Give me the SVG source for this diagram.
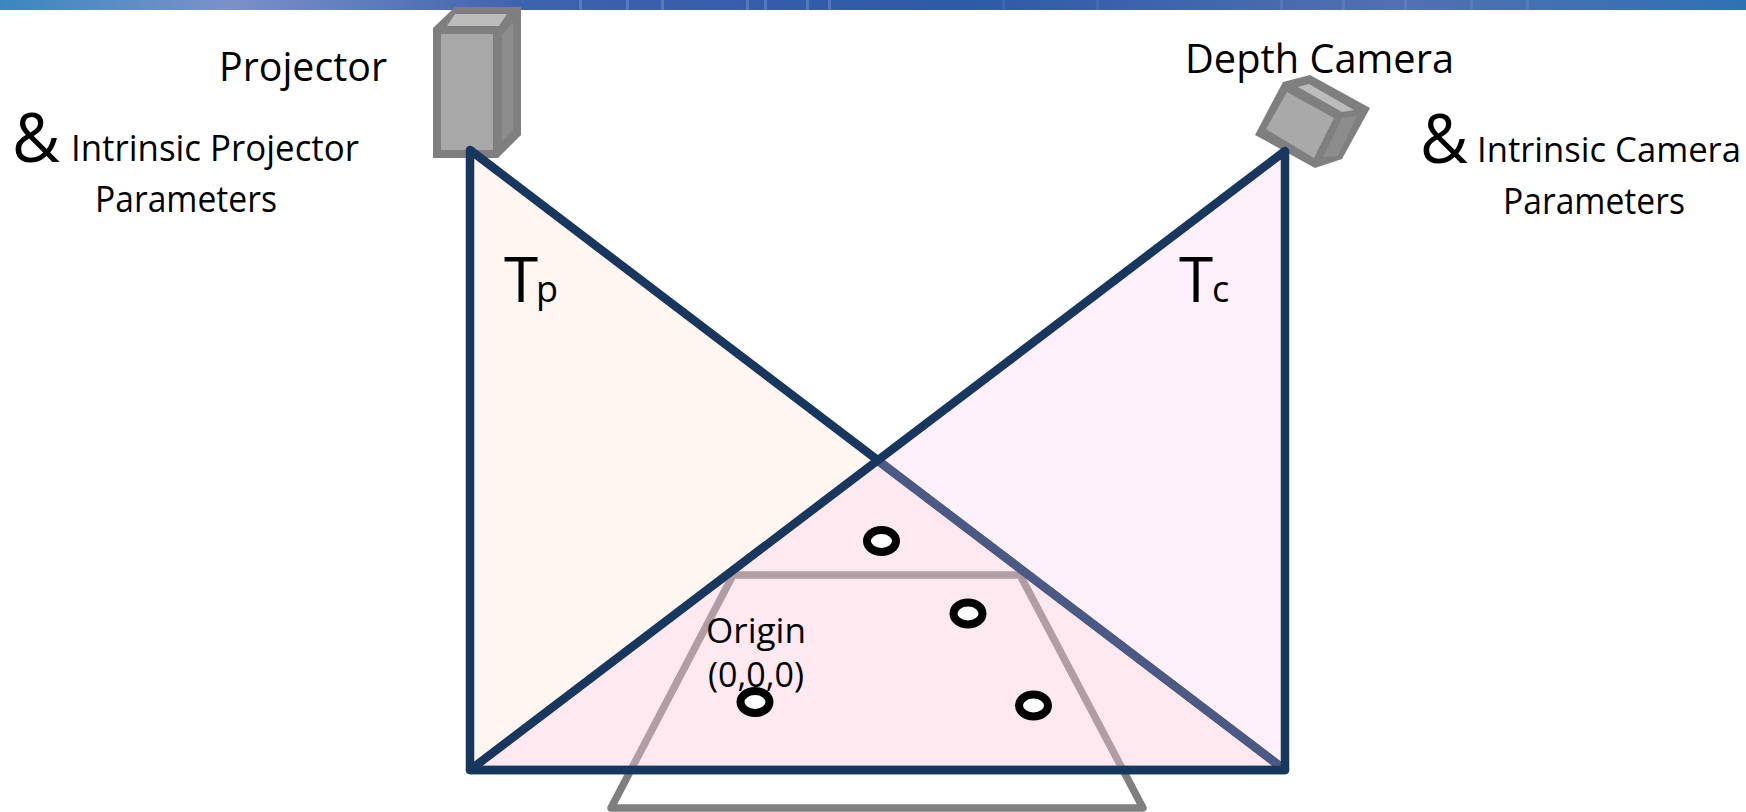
<svg xmlns="http://www.w3.org/2000/svg" width="1746" height="812" viewBox="0 0 1746 812">
<style>
text{font-family:"Open Sans","Noto Sans","Liberation Sans",sans-serif;fill:#000}
.m{font-size:36px}.n{font-size:34px}.l{font-size:41px}.s{font-size:34px}.amp{font-size:68px}.t{font-size:62px}.sub{font-size:36px}
.shell{fill:#7f7f7f}.front{fill:#a9a9a9}.top{fill:#bcbcbc}.side{fill:#8c8c8c}
.spot{fill:#fff;stroke:#000;stroke-width:8}
.tri{stroke:#17375e;stroke-width:8.500;stroke-linejoin:round}
.streak{fill:#8fb0dc}
</style>
<defs><linearGradient id="bar" x1="0" x2="1" y1="0" y2="0">
<stop offset="0" stop-color="#3a87c0"/><stop offset=".13" stop-color="#7b92c9"/><stop offset=".3" stop-color="#3f62ad"/><stop offset=".55" stop-color="#2d5aa6"/><stop offset=".8" stop-color="#5270b2"/><stop offset="1" stop-color="#2e72b3"/>
</linearGradient></defs>
<rect width="1746" height="10" fill="url(#bar)"/>
<g id="bar-streaks">
<rect class="streak" opacity=".35" x="579" width="3" height="10"/><rect class="streak" opacity=".35" x="626" width="3" height="10"/><rect class="streak" opacity=".35" x="661" width="3" height="10"/><rect class="streak" opacity=".35" x="746" width="3" height="10"/><rect class="streak" opacity=".35" x="764" width="3" height="10"/><rect class="streak" opacity=".35" x="806" width="3" height="10"/><rect class="streak" opacity=".35" x="828" width="3" height="10"/><rect class="streak" opacity=".15" x="1002" width="3" height="10"/><rect class="streak" opacity=".15" x="1096" width="3" height="10"/><rect class="streak" opacity=".2" x="1280" width="3" height="10"/><rect class="streak" opacity=".2" x="1342" width="3" height="10"/><rect class="streak" opacity=".2" x="1404" width="3" height="10"/><rect class="streak" opacity=".2" x="1470" width="3" height="10"/><rect class="streak" opacity=".2" x="1526" width="3" height="10"/>
</g>
<g id="table-plane"><path d="M733 575H1020L1143 808H611Z" fill="none" stroke="#7f7f7f" stroke-width="7.500" stroke-linejoin="round"/></g>
<g id="projector">
<path class="shell" d="M433 28L455 7H521V135L498 158H433Z"/>
<path class="front" d="M441 34H493V150H441Z"/><path class="top" d="M447 26L455 14H507L499 26Z"/><path class="side" d="M502 35L513 22V130L502 142Z"/>
<text class="l" x="219" y="81" textLength="168" lengthAdjust="spacingAndGlyphs">Projector</text>
</g>
<g id="camera">
<path class="shell" d="M1283 82L1310 75L1370 108L1342 159L1315 168L1255 135Z"/>
<path class="front" d="M1287 92L1334 118L1314 158L1266 129Z"/><path class="top" d="M1298 87L1309 84L1354 110L1342 112Z"/><path class="side" d="M1342 118L1357 116L1338 156L1323 157Z"/>
<text class="l" x="1185" y="73" textLength="269" lengthAdjust="spacingAndGlyphs">Depth Camera</text>
</g>
<g id="connectors">
<path class="tri" d="M470 150V770H1285Z" fill="#fdd9c4" fill-opacity=".24"/>
<path d="M1285 151V770H470Z" fill="#f8bfe8" fill-opacity=".23"/>
<path d="M877 460L1285 770" fill="none" stroke="#4a5a85" stroke-width="8.500"/>
<path d="M1285 151V770H470Z" fill="none" class="tri"/>
</g>
<g id="projector-params">
<text class="amp" x="12" y="162" textLength="48" lengthAdjust="spacingAndGlyphs">&amp;</text>
<text class="m" x="71" y="161" textLength="288" lengthAdjust="spacingAndGlyphs">Intrinsic Projector</text>
<text class="m" x="95" y="212" textLength="182" lengthAdjust="spacingAndGlyphs">Parameters</text>
</g>
<g id="camera-params">
<text class="amp" x="1420" y="163" textLength="48" lengthAdjust="spacingAndGlyphs">&amp;</text>
<text class="n" x="1477" y="162" textLength="264" lengthAdjust="spacingAndGlyphs">Intrinsic Camera</text>
<text class="m" x="1503" y="214" textLength="182" lengthAdjust="spacingAndGlyphs">Parameters</text>
</g>
<g id="tp"><text class="t" x="504" y="302">T</text><text class="sub" x="536" y="302">p</text></g>
<g id="tc"><text class="t" x="1179" y="302">T</text><text class="sub" x="1212" y="302">c</text></g>
<g id="origin">
<text class="s" x="706" y="643" textLength="100" lengthAdjust="spacingAndGlyphs">Origin</text>
<text class="s" x="708" y="687" textLength="96" lengthAdjust="spacingAndGlyphs">(0,0,0)</text>
</g>
<g id="point-1"><ellipse class="spot" cx="881.500" cy="541" rx="14.500" ry="11"/></g>
<g id="point-2"><ellipse class="spot" cx="968" cy="613.500" rx="14.500" ry="11"/></g>
<g id="point-3"><ellipse class="spot" cx="755" cy="702" rx="14.500" ry="11"/></g>
<g id="point-4"><ellipse class="spot" cx="1033.500" cy="705.500" rx="14.500" ry="11"/></g>
</svg>
